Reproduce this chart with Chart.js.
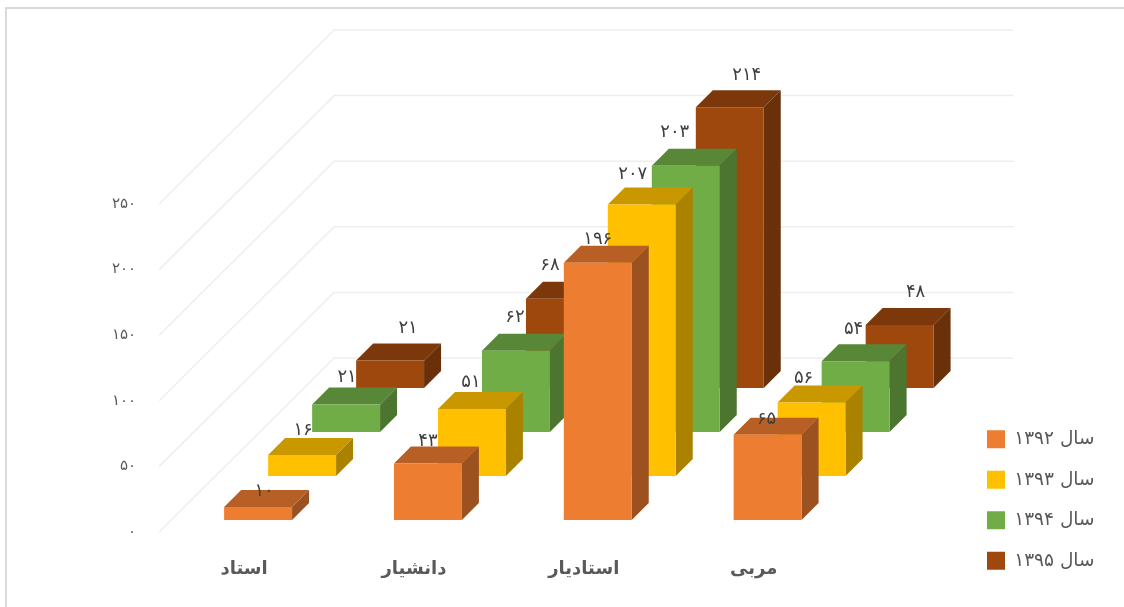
<!DOCTYPE html>
<html>
<head>
<meta charset="utf-8">
<style>
  html, body { margin: 0; background: #fff; }
  #wrap { width: 1124px; height: 607px; }
</style>
<script src="https://cdn.jsdelivr.net/npm/chart.js@4"></script>
</head>
<body>
<div id="wrap"><canvas id="chart" width="1124" height="607"></canvas></div>
<script>
const categories = ['استاد', 'دانشیار', 'استادیار', 'مربی'];
const seriesNames = ['سال ۱۳۹۲', 'سال ۱۳۹۳', 'سال ۱۳۹۴', 'سال ۱۳۹۵'];
const values1392 = [10, 43, 196, 65];
const values1393 = [16, 51, 207, 56];
const values1394 = [21, 62, 203, 54];
const values1395 = [21, 68, 214, 48];
const yTicks = [0, 50, 100, 150, 200, 250];

const frontColors = ['#ED7D31', '#FFC000', '#70AD47', '#9E480E'];
const topColors = ['#B85F26', '#C99700', '#588837', '#7C380B'];
const sideColors = ['#9C5120', '#AB8100', '#4C7530', '#6A3009'];

// how far each row of bars sits from the axis, and the depth of a single bar
const rowShift = [[14, -12], [58, -56], [102, -100], [146, -144]];
const barDepth = 17;
const wallShift = [175, -174];

// value labels do not sit at a fixed place above the bars in the picture
const labelNudge = [
    [[6, -16], [0, -22], [0, -24], [-1, -15]],
    [[1, -25], [-1, -27], [-9, -30], [-8, -24]],
    [[1, -27], [-1, -33], [-11, -33], [-2, -32]],
    [[18, -32], [-10, -33], [17, -32], [16, -33]]
];

function persianDigits(value) {
    return String(value).replace(/\d/g, d => '۰۱۲۳۴۵۶۷۸۹'[d]);
}

const bars3d = {
    id: 'bars3d',
    beforeDraw(chart) {
        const ctx = chart.ctx;
        ctx.save();
        ctx.strokeStyle = '#D9D9D9';
        ctx.lineWidth = 2;
        ctx.strokeRect(6, 8, 1130, 610);
        ctx.restore();

        // legend sits far right of the plot, bottom corner
        const legend = chart.legend;
        const w = legend.width;
        const h = legend.height;
        legend.left = 965;
        legend.right = 965 + w;
        legend.top = 408;
        legend.bottom = 408 + h;
    },
    beforeDatasetsDraw(chart) {
        const ctx = chart.ctx;
        const y = chart.scales.y;
        const area = chart.chartArea;
        ctx.save();
        ctx.strokeStyle = '#EEEEEE';
        ctx.lineWidth = 1.5;
        y.ticks.forEach(tick => {
            const py = y.getPixelForValue(tick.value);
            ctx.beginPath();
            ctx.moveTo(area.left, py);
            ctx.lineTo(area.left + wallShift[0], py + wallShift[1]);
            ctx.lineTo(area.right + wallShift[0], py + wallShift[1]);
            ctx.stroke();
        });
        ctx.restore();
    },
    beforeDatasetDraw(chart, args) {
        const ctx = chart.ctx;
        const i = args.index;
        ctx.save();
        ctx.translate(rowShift[i][0], rowShift[i][1]);
        args.meta.data.forEach(bar => {
            const p = bar.getProps(['x', 'y', 'base', 'width'], true);
            const l = p.x - p.width / 2;
            const r = p.x + p.width / 2;
            ctx.fillStyle = topColors[i];
            ctx.beginPath();
            ctx.moveTo(l, p.y);
            ctx.lineTo(l + barDepth, p.y - barDepth);
            ctx.lineTo(r + barDepth, p.y - barDepth);
            ctx.lineTo(r, p.y);
            ctx.closePath();
            ctx.fill();
            ctx.fillStyle = sideColors[i];
            ctx.beginPath();
            ctx.moveTo(r, p.y);
            ctx.lineTo(r + barDepth, p.y - barDepth);
            ctx.lineTo(r + barDepth, p.base - barDepth);
            ctx.lineTo(r, p.base);
            ctx.closePath();
            ctx.fill();
        });
    },
    afterDatasetDraw(chart) {
        chart.ctx.restore();
    },
    afterDatasetsDraw(chart) {
        const ctx = chart.ctx;
        ctx.save();
        ctx.font = '18px "DejaVu Sans"';
        ctx.fillStyle = '#404040';
        ctx.textAlign = 'center';
        ctx.textBaseline = 'middle';
        chart.data.datasets.forEach((ds, i) => {
            chart.getDatasetMeta(i).data.forEach((bar, j) => {
                const nudge = labelNudge[i][j];
                ctx.fillText(persianDigits(ds.data[j]),
                    bar.x + rowShift[i][0] + nudge[0],
                    bar.y + rowShift[i][1] + nudge[1]);
            });
        });
        ctx.restore();
    }
};

new Chart(document.getElementById('chart').getContext('2d'), {
    type: 'bar',
    data: {
        labels: categories,
        datasets: [values1392, values1393, values1394, values1395].map((values, i) => ({
            label: seriesNames[i],
            data: values,
            backgroundColor: frontColors[i],
            clip: false
        }))
    },
    plugins: [bars3d],
    options: {
        responsive: false,
        animation: false,
        events: [],
        grouped: false,
        barPercentage: 0.8,
        categoryPercentage: 0.5,
        layout: { padding: { left: 97, right: 146, top: 204, bottom: 15 } },
        scales: {
            x: {
                afterFit(scale) {
                    scale.height = 60;
                },
                grid: { display: false },
                border: { display: false },
                ticks: {
                    padding: 19,
                    color: '#595959',
                    font: { family: '"DejaVu Sans"', size: 18, weight: 'bold' }
                }
            },
            y: {
                min: 0,
                max: 250,
                afterBuildTicks(scale) {
                    scale.ticks = yTicks.map(v => ({ value: v }));
                },
                grid: { display: false },
                border: { display: false },
                ticks: {
                    padding: 15,
                    color: '#595959',
                    font: { family: '"DejaVu Sans"', size: 15 },
                    callback: persianDigits
                }
            }
        },
        plugins: {
            title: { display: false },
            tooltip: { enabled: false },
            legend: {
                position: 'right',
                align: 'start',
                textDirection: 'rtl',
                labels: {
                    boxWidth: 18,
                    boxHeight: 18,
                    padding: 22,
                    color: '#595959',
                    font: { family: '"DejaVu Sans"', size: 18.5 }
                }
            }
        }
    }
});
</script>
</body>
</html>
